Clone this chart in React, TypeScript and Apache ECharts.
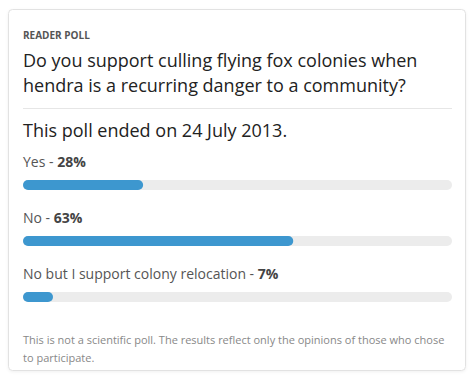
import React, { useEffect, useRef } from "react";
import * as echarts from "echarts";

const kicker = "READER POLL";
const questionLines = [
  "Do you support culling flying fox colonies when",
  "hendra is a recurring danger to a community?",
];
const statusText = "This poll ended on 24 July 2013.";
const options = ["Yes", "No", "No but I support colony relocation"];
const percents = [28, 63, 7];
const footnoteLines = [
  "This is not a scientific poll. The results reflect only the opinions of those who chose",
  "to participate.",
];

const FONT = "'Open Sans', 'Noto Sans', sans-serif";

export default function App() {
  const ref = useRef<HTMLDivElement>(null);
  useEffect(() => {
    document.body.style.margin = "0";
    const chart = echarts.init(ref.current!, null, { renderer: "svg" });
    chart.setOption({
      animation: false,
      backgroundColor: "#ffffff",
      textStyle: { fontFamily: FONT },
      grid: { left: 23, right: 23, top: 157, bottom: 55, containLabel: false },
      xAxis: {
        type: "value",
        min: 0,
        max: 100,
        show: false,
      },
      yAxis: {
        type: "category",
        data: options,
        inverse: true,
        show: false,
      },
      series: [
        {
          type: "bar",
          data: percents,
          barWidth: 10,
          itemStyle: { color: "#3d97cf", borderRadius: 5 },
          showBackground: true,
          backgroundStyle: { color: "#ececec", borderRadius: 5 },
          label: {
            show: true,
            position: [0, -26],
            fontFamily: FONT,
            formatter: (p: any) => `{a|${options[p.dataIndex]} - }{b|${p.value}%}`,
            rich: {
              a: { fontSize: 14, color: "#555555", fontFamily: FONT },
              b: { fontSize: 14, color: "#444444", fontWeight: "bold", fontFamily: FONT },
            },
          },
        },
      ],
      graphic: [
        {
          type: "rect",
          z: -10,
          shape: { x: 8.5, y: 9.5, width: 457, height: 361, r: 4 },
          style: {
            fill: "#ffffff",
            stroke: "#e2e2e2",
            lineWidth: 1,
            shadowBlur: 3,
            shadowColor: "rgba(0,0,0,0.06)",
            shadowOffsetY: 1,
          },
        },
        {
          type: "text",
          left: 23,
          top: 30,
          style: {
            text: kicker,
            fontSize: 10,
            fontWeight: "bold",
            fill: "#555555",
            fontFamily: FONT,
          },
        },
        {
          type: "text",
          left: 23,
          top: 47,
          style: {
            text: questionLines.join("\n"),
            fontSize: 18,
            lineHeight: 25,
            fill: "#222222",
            fontFamily: FONT,
          },
        },
        {
          type: "line",
          shape: { x1: 23, y1: 108.5, x2: 452, y2: 108.5 },
          style: { stroke: "#e6e6e6", lineWidth: 1 },
        },
        {
          type: "text",
          left: 23,
          top: 121,
          style: {
            text: statusText,
            fontSize: 18,
            fill: "#222222",
            fontFamily: FONT,
          },
        },
        {
          type: "text",
          left: 23,
          top: 330,
          style: {
            text: footnoteLines.join("\n"),
            fontSize: 11,
            lineHeight: 18,
            fill: "#888888",
            fontFamily: FONT,
          },
        },
      ],
    });
    return () => chart.dispose();
  }, []);
  return (
    <div
      ref={ref}
      style={{ position: "absolute", left: 0, top: 0, width: 475, height: 380 }}
    />
  );
}
